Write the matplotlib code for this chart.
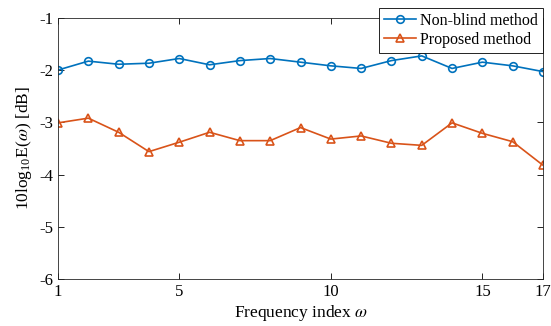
import matplotlib
matplotlib.use("Agg")
import matplotlib.pyplot as plt

idx = list(range(1, 18))
nonblind = [-2.00, -1.83, -1.89, -1.87, -1.78, -1.90, -1.82, -1.78, -1.85,
            -1.92, -1.97, -1.82, -1.73, -1.97, -1.85, -1.92, -2.03]
proposed = [-3.01, -2.92, -3.19, -3.56, -3.38, -3.19, -3.35, -3.35, -3.10,
            -3.32, -3.26, -3.40, -3.44, -3.01, -3.21, -3.37, -3.82]
xticks = [1, 5, 10, 15, 17]
yticks = [-6, -5, -4, -3, -2, -1]

plt.rcParams['font.family'] = ['Liberation Serif', 'DejaVu Serif']
plt.rcParams['mathtext.fontset'] = 'stix'

fig = plt.figure(figsize=(5.51, 3.26), dpi=100)
ax = fig.add_axes([58/551, 1-279.3/326, (543-58)/551, (279.3-17.7)/326])

ax.plot(idx, nonblind, color='#0072BD', marker='o', markersize=5.5,
        markerfacecolor='none', markeredgewidth=1.2, lw=1.2, label='Non-blind method')
ax.plot(idx, proposed, color='#D95319', marker='^', markersize=6,
        markerfacecolor='none', markeredgewidth=1.2, lw=1.2, label='Proposed method')

ax.set_xlim(1, 17)
ax.set_ylim(-6, -1)
ax.set_xticks(xticks)
ax.set_yticks(yticks)
ax.set_xticklabels([str(t) for t in xticks])
ax.set_yticklabels([str(t) for t in yticks])
ax.tick_params(direction='in', labelsize=12, length=4, width=0.6, top=True, right=True)
for s in ax.spines.values():
    s.set_linewidth(0.6)
    s.set_color('#262626')

ax.set_xlabel(r'Frequency index $\omega$', fontsize=12.5, labelpad=2)
ax.set_ylabel(r'10log$_{\mathregular{10}}$E($\omega$) [dB]', fontsize=12.5, labelpad=4)

leg = ax.legend(loc='upper right', bbox_to_anchor=(543/551, 1-8/326),
                bbox_transform=fig.transFigure, borderaxespad=0, fontsize=11.5,
                fancybox=False, framealpha=1, edgecolor='black',
                handlelength=2.0, handletextpad=0.3, borderpad=0.3, labelspacing=0.2)
leg.get_frame().set_linewidth(0.6)

fig.savefig('out.png', dpi=100)
